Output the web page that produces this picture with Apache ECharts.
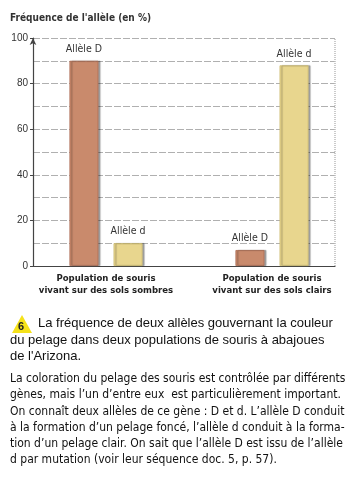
<!DOCTYPE html>
<html><head><meta charset="utf-8">
<script src="https://cdn.jsdelivr.net/npm/echarts@6/dist/echarts.min.js"></script>
<style>html,body{margin:0;padding:0;background:#fff}#c{width:356px;height:480px}</style>
</head><body><div id="c"></div>
<script>
const categories = ['Population de souris\nvivant sur des sols sombres', 'Population de souris\nvivant sur des sols clairs'];
const alleleD = [90, 7];
const alleled = [10, 88];
const yTicks = [0, 20, 40, 60, 80, 100];
const axisTitle = "Fréquence de l'allèle (en %)";
const caption = ["La fréquence de deux allèles gouvernant la couleur", "du pelage dans deux populations de souris à abajoues", "de l'Arizona."];
const body = ["La coloration du pelage des souris est contrôlée par différents", "gènes, mais l’un d’entre eux  est particulièrement important.", "On connaît deux allèles de ce gène : D et d. L’allèle D conduit", "à la formation d’un pelage foncé, l’allèle d conduit à la forma-", "tion d’un pelage clair. On sait que l’allèle D est issu de l’allèle", "d par mutation (voir leur séquence doc. 5, p. 57)."];

const chart = echarts.init(document.getElementById('c'));
const graphics = [];
graphics.push({type:'text', left:10, top:13, style:{text:axisTitle, font:'bold 10px "DejaVu Sans Condensed", "Noto Sans", sans-serif', fill:'#333'}});
graphics.push({type:'polygon', shape:{points:[[22,315],[12,333],[32,333]]}, style:{fill:'#f5e21a'}});
graphics.push({type:'text', left:18, top:321, style:{text:'6', font:'bold 11px "Liberation Sans", sans-serif', fill:'#222'}});
caption.forEach((t,i)=>graphics.push({type:'text', left: i===0?38:10, top:317+i*16.5, style:{text:t, font:'13px "Liberation Sans", Arial, sans-serif', fill:'#111'}}));
body.forEach((t,i)=>graphics.push({type:'text', left:10, top:373+i*16.2, style:{text:t, font:'12px "DejaVu Sans Condensed", "Noto Sans", sans-serif', fill:'#111'}}));

chart.setOption({
  animation:false,
  graphic: graphics,
  grid:[
    {left:33, right:21, top:38, bottom:214},
    {left:23, right:1, top:38, bottom:214}
  ],
  xAxis:[
    {gridIndex:0, type:'value', min:0, max:1, axisLabel:{show:false}, axisTick:{show:false},
     axisLine:{show:true, lineStyle:{color:'#444', width:1.2}},
     splitLine:{show:false}},
    {gridIndex:1, type:'category', data:categories, axisLine:{show:false}, axisTick:{show:false},
     axisLabel:{interval:0, margin:7, color:'#222', fontWeight:'bold', fontSize:9.5, lineHeight:12, fontFamily:'"DejaVu Sans Condensed", "Noto Sans", sans-serif'}}
  ],
  yAxis:[
    {gridIndex:0, type:'value', min:0, max:100, interval:20,
     axisLine:{show:true, lineStyle:{color:'#444', width:1.2}, symbol:['none','arrow'], symbolSize:[5,7]},
     axisTick:{show:true, length:3, lineStyle:{color:'#444'}},
     axisLabel:{color:'#333', fontSize:10, margin:5, fontFamily:'"Liberation Sans", sans-serif'},
     splitLine:{show:true, lineStyle:{color:'#b0b0b0', type:[7,2], width:1}},
     minorTick:{show:false, splitNumber:2},
     minorSplitLine:{show:true, lineStyle:{color:'#b0b0b0', type:[7,2], width:1}}},
    {gridIndex:1, type:'value', min:0, max:100, show:false}
  ],
  series:[
    {name:'Allèle D', type:'bar', xAxisIndex:1, yAxisIndex:1, data:alleleD, barWidth:29, barGap:'52%',
     itemStyle:{color:'#c98a6c', borderColor:'#a96a50', borderWidth:0.8, shadowColor:'rgba(0,0,0,0.35)', shadowOffsetX:2, shadowBlur:1},
     label:{show:true, position:'top', distance:6, formatter:'Allèle D', fontSize:10.5, color:'#333', fontFamily:'"DejaVu Sans Condensed", sans-serif'}},
    {name:'Allèle d', type:'bar', xAxisIndex:1, yAxisIndex:1, data:alleled, barWidth:29, barGap:'52%',
     itemStyle:{color:'#e8d68e', borderColor:'#cdbb70', borderWidth:0.8, shadowColor:'rgba(0,0,0,0.35)', shadowOffsetX:2, shadowBlur:1},
     label:{show:true, position:'top', distance:6, formatter:'Allèle d', fontSize:10.5, color:'#333', fontFamily:'"DejaVu Sans Condensed", sans-serif'}},
    {type:'line', xAxisIndex:0, yAxisIndex:0, data:[], markLine:{silent:true, symbol:'none', label:{show:false},
      lineStyle:{color:'#bbb', type:[1,1], width:1.5}, data:[{xAxis:1}]}}
  ]
});
</script></body></html>
